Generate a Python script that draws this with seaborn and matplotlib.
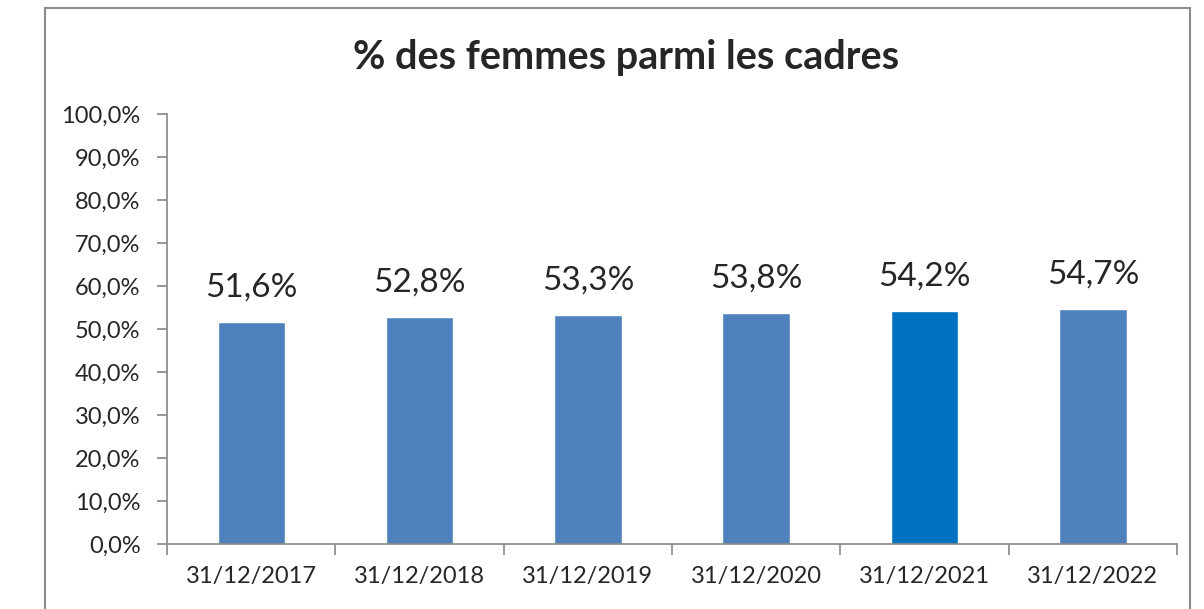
import matplotlib
matplotlib.use("Agg")
import matplotlib.pyplot as plt
import seaborn as sns
import pandas as pd
from matplotlib.patches import Rectangle
from matplotlib.ticker import FuncFormatter, FixedLocator

# Data
dates = ["31/12/2017", "31/12/2018", "31/12/2019", "31/12/2020", "31/12/2021", "31/12/2022"]
values = [51.6, 52.8, 53.3, 53.8, 54.2, 54.7]
bar_colors = ["#4F81BD", "#4F81BD", "#4F81BD", "#4F81BD", "#0070C0", "#4F81BD"]
title = "% des femmes parmi les cadres"

sns.set_style("white")
plt.rcParams['font.family'] = ['Lato', 'DejaVu Sans']

df = pd.DataFrame({"date": dates, "value": values})

fig = plt.figure(figsize=(12.04, 6.09), dpi=100)
ax = fig.add_axes([167 / 1204, 1 - 544 / 609, (1177 - 167) / 1204, (544 - 114) / 609])

sns.barplot(data=df, x="date", y="value", hue="date", palette=bar_colors,
            width=0.4, legend=False, ax=ax, saturation=1)

ax.set_xlim(-0.5, len(dates) - 0.5)
ax.set_ylim(0, 100)
ax.set_yticks(range(0, 101, 10))
ax.yaxis.set_major_formatter(FuncFormatter(lambda v, p: f"{v:.1f}%".replace(".", ",")))
ax.set_xlabel("")
ax.set_ylabel("")

# category tick marks between bars
ax.xaxis.set_minor_locator(FixedLocator([i - 0.5 for i in range(len(dates) + 1)]))
ax.tick_params(axis="x", which="major", bottom=False, length=0, pad=16, labelsize=17)
ax.tick_params(axis="x", which="minor", bottom=True, length=8, color="#868686",
               width=1.2, direction="out")
ax.tick_params(axis="y", left=True, length=7, color="#868686", width=1.2,
               direction="out", pad=12, labelsize=17)

for side in ["top", "right"]:
    ax.spines[side].set_visible(False)
for side in ["left", "bottom"]:
    ax.spines[side].set_color("#868686")
    ax.spines[side].set_linewidth(1.2)

for cont in ax.containers:
    ax.bar_label(cont, labels=[f"{v:.1f}%".replace(".", ",") for v in cont.datavalues],
                 padding=14, fontsize=24)

fig.text(626 / 1204, 1 - 57 / 609, title, ha="center", va="center",
         fontsize=28.5, fontweight="bold")

fig.patches.append(Rectangle((45 / 1204, -0.1), (1190 - 45) / 1204, 1.1 - 8 / 609,
                             transform=fig.transFigure, fill=False,
                             edgecolor="#8C8C8C", linewidth=1.5))

fig.savefig("out.png", dpi=100)
